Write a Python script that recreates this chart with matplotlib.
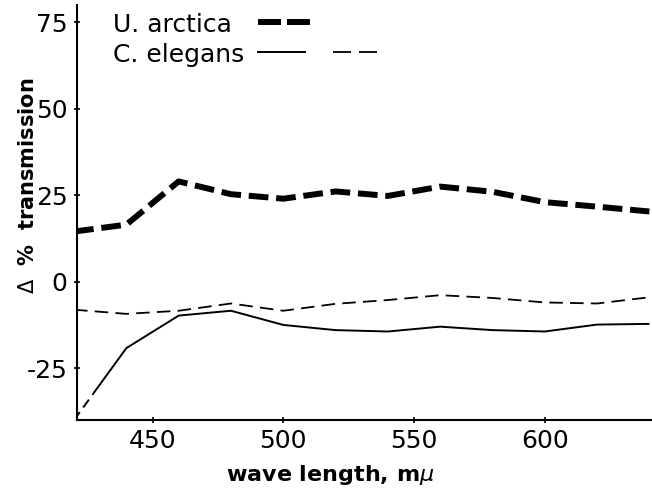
import matplotlib
matplotlib.use("Agg")
import matplotlib.pyplot as plt

# wave length (m-mu) and change in % transmission
wavelength = [420, 440, 460, 480, 500, 520, 540, 560, 580, 600, 620, 640]
arctica = [14.5, 16.5, 29.0, 25.3, 24.0, 26.1, 24.8, 27.5, 26.0, 23.0, 21.7, 20.3]
elegans_solid = [-40.0, -19.2, -9.8, -8.4, -12.5, -14.0, -14.4, -13.0, -14.0, -14.4, -12.4, -12.2]
elegans_dashed = [-8.1, -9.3, -8.4, -6.3, -8.4, -6.4, -5.3, -3.9, -4.7, -6.0, -6.3, -4.5]

xticks = [450, 500, 550, 600]
yticks = [-25, 0, 25, 50, 75]


def main():
    plt.rcParams["font.family"] = ["DejaVu Sans"]
    plt.rcParams["axes.unicode_minus"] = False

    fig = plt.figure(figsize=(6.52, 4.93), dpi=100)
    ax = fig.add_axes([0.1176, 0.148, 0.8824, 0.8418])

    # U. arctica - heavy dashed line
    ax.plot(wavelength, arctica, color="black", lw=4.3,
            dashes=(3.3, 1.3), solid_capstyle="butt", dash_capstyle="butt")

    # C. elegans - thin solid line (dashed near the start, as in the original)
    ax.plot(wavelength, elegans_solid, color="black", lw=1.4,
            dashes=(5, 3, 5, 3, 1000, 0.01))

    # C. elegans - thin dashed line
    ax.plot(wavelength, elegans_dashed, color="black", lw=1.3, dashes=(7.5, 4))

    ax.set_xlim(421, 641)
    ax.set_ylim(-40, 80)
    ax.set_xticks(xticks)
    ax.set_yticks(yticks)

    for side in ["top", "right"]:
        ax.spines[side].set_visible(False)
    for side in ["left", "bottom"]:
        ax.spines[side].set_linewidth(1.5)

    ax.tick_params(direction="inout", length=5, width=1.2, labelsize=18, pad=4)

    ax.set_xlabel("wave length, m$\\mu$", fontsize=16, fontweight="bold")
    ax.xaxis.set_label_coords(0.44, -0.103)
    ax.set_ylabel("$\\Delta$  %  transmission", fontsize=15, fontweight="bold")
    ax.yaxis.set_label_coords(-0.068, 0.565)

    # hand drawn key, like the original figure
    ax.text(0.063, 0.9357, "U. arctica", fontsize=18, transform=ax.transAxes, va="baseline")
    ax.text(0.063, 0.863, "C. elegans", fontsize=18, transform=ax.transAxes, va="baseline")
    ax.plot([0.3149, 0.414], [0.9598, 0.9598], transform=ax.transAxes, color="black",
            lw=4.3, dashes=(3.85, 1.0), dash_capstyle="butt", clip_on=False)
    ax.plot([0.3149, 0.3968], [0.8875, 0.8875], transform=ax.transAxes, color="black",
            lw=1.4, clip_on=False)
    ax.plot([0.4455, 0.522], [0.8875, 0.8875], transform=ax.transAxes, color="black",
            lw=1.3, dashes=(10, 4.4), clip_on=False)

    fig.savefig("out.png", dpi=100)


if __name__ == "__main__":
    main()
